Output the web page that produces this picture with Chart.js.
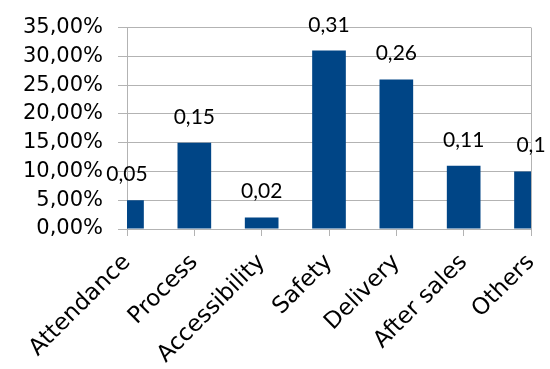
<!DOCTYPE html>
<html>
<head>
<meta charset="utf-8">
<script src="https://cdn.jsdelivr.net/npm/chart.js@4"></script>
<style>
  html, body { margin: 0; padding: 0; background: #fff; }
  #wrap { width: 550px; height: 369px; }
</style>
</head>
<body>
<div id="wrap"><canvas id="chart"></canvas></div>
<script>
const categories = ["Attendance", "Process", "Accessibility", "Safety", "Delivery", "After sales", "Others"];
const shares = [0.05, 0.15, 0.02, 0.31, 0.26, 0.11, 0.1];
const yMax = 0.35;
const yStep = 0.05;

const gridGrey = "#b3b3b3";
const barBlue = "#004586";

// valeurs affichées au-dessus des barres, virgule décimale
const valueLabels = {
  id: "valueLabels",
  afterDatasetsDraw(chart) {
    const ctx = chart.ctx;
    const meta = chart.getDatasetMeta(0);
    ctx.save();
    ctx.font = "21px Lato";
    ctx.fillStyle = "#000";
    ctx.textAlign = "center";
    ctx.textBaseline = "alphabetic";
    meta.data.forEach((bar, i) => {
      const txt = String(shares[i]).replace(".", ",");
      ctx.fillText(txt, bar.x, bar.y - 19);
    });
    ctx.restore();
  }
};

new Chart(document.getElementById("chart"), {
  type: "bar",
  data: {
    labels: categories,
    datasets: [{
      data: shares,
      backgroundColor: barBlue,
      borderWidth: 0,
      barPercentage: 1,
      categoryPercentage: 0.5,
      clip: 0
    }]
  },
  options: {
    responsive: true,
    maintainAspectRatio: false,
    animation: false,
    layout: { padding: { top: 19, right: 19, left: 0, bottom: 0 } },
    plugins: {
      legend: { display: false },
      tooltip: { enabled: false }
    },
    scales: {
      x: {
        offset: false,
        grid: {
          offset: false,
          color: c => c.index === categories.length - 1 ? gridGrey : "transparent",
          tickColor: gridGrey,
          tickLength: 7
        },
        border: { color: gridGrey },
        ticks: {
          autoSkip: false,
          minRotation: 45,
          maxRotation: 45,
          padding: 13,
          color: "#000",
          font: { family: "DejaVu Sans", size: 23 }
        },
        // les étiquettes inclinées ne doivent pas rétrécir la zone de tracé
        afterFit: s => {
          s.height = 140;
          s.paddingLeft = 0;
          s.paddingRight = 0;
        }
      },
      y: {
        min: 0,
        max: yMax,
        grid: { color: gridGrey, tickLength: 9 },
        border: { color: gridGrey },
        ticks: {
          stepSize: yStep,
          padding: 15,
          color: "#000",
          font: { family: "DejaVu Sans", size: 21 },
          callback: v => (v * 100).toFixed(2).replace(".", ",") + "%"
        },
        afterFit: s => { s.width = 127; }
      }
    }
  },
  plugins: [valueLabels]
});
</script>
</body>
</html>
